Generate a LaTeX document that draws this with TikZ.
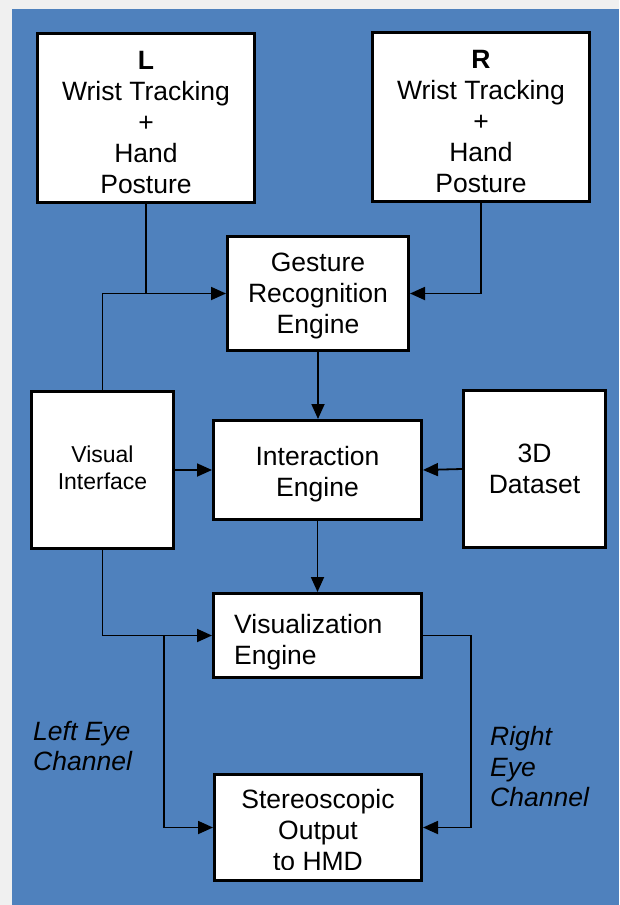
\documentclass[tikz,border=0pt]{standalone}
\usepackage{fontspec}
\setmainfont{Liberation Sans}
\usetikzlibrary{arrows.meta}
\definecolor{panelblue}{HTML}{4F81BD}
\definecolor{pagegray}{HTML}{F0F0F0}
\tikzset{
  box/.style={draw=black, fill=white, line width=3pt, rectangle, inner sep=0pt},
  txt/.style={align=center, inner sep=0pt, font=\fontsize{26.5}{31}\selectfont},
  small/.style={font=\fontsize{23}{27}\selectfont},
  conn/.style={draw=black, line width=1.8pt},
  arr/.style={conn, -{Triangle[length=15pt,width=13pt]}},
  chan/.style={align=left, inner sep=0pt, font=\fontsize{26.5}{30.5}\selectfont\itshape},
}
\begin{document}
\begin{tikzpicture}[x=1pt, y=-1pt]
  % page and panel
  \fill[pagegray] (0,0) rectangle (619,905);
  \fill[panelblue] (12,9) rectangle (619,905);
  \useasboundingbox (0,0) rectangle (619,905);

  % blocks
  \node[box, minimum width=217pt, minimum height=169pt] (L) at (146,118) {};
  \node[box, minimum width=217pt, minimum height=169pt] (R) at (481,117) {};
  \node[box, minimum width=181pt, minimum height=114pt] (G) at (318,293.5) {};
  \node[box, minimum width=142pt, minimum height=157pt] (V) at (102.5,470) {};
  \node[box, minimum width=208pt, minimum height=99pt] (I) at (317.5,470) {};
  \node[box, minimum width=142pt, minimum height=157pt] (D) at (534.5,469) {};
  \node[box, minimum width=208pt, minimum height=84pt] (Z) at (317.5,635.5) {};
  \node[box, minimum width=207pt, minimum height=106pt] (S) at (318,827.5) {};

  % block texts
  \node[txt] (Lt) at ([yshift=-4.5pt]L.center) {\textbf{L}\\Wrist Tracking\\+\\Hand\\Posture};
  \node[txt] (Rt) at ([yshift=-4.5pt]R.center) {\textbf{R}\\Wrist Tracking\\+\\Hand\\Posture};
  \node[txt] (Gt) at ([yshift=-2pt]G.center) {Gesture\\Recognition\\Engine};
  \node[txt, small] (Vt) at ([yshift=2pt]V.center) {Visual\\Interface};
  \node[txt] (It) at ([yshift=-4.5pt]I.center) {Interaction\\Engine};
  \node[txt] (Dt) at (D.center) {3D\\Dataset};
  \node[txt, align=left, anchor=west] (Zt) at (234,642) {Visualization\\Engine};
  \begin{scope}
    \clip (200,770) rectangle (440,869);
    \node[txt] (St) at (318,830.5) {Stereoscopic\\Output\\to HMD};
  \end{scope}

  % channel labels
  \node[chan, anchor=west] (LE) at (33,746) {Left Eye\\Channel};
  \node[chan, anchor=west] (RE) at (490,767) {Right\\Eye\\Channel};

  % connectors
  \draw[conn] (L.south) -- (L.south |- G.west);
  \draw[arr] (V.north) |- (G.west);
  \draw[arr] (R.south) |- (G.east);
  \draw[arr] (G.south) -- (G.south |- I.north);
  \draw[arr] (V.east) -- (I.west);
  \draw[arr] (D.west) -- (I.east);
  \draw[arr] (I.south) -- (I.south |- Z.north);
  \draw[arr] (V.south) |- (Z.west);
  \coordinate (lsplit) at (164,635.5);
  \draw[arr] (lsplit) |- (S.west);
  \coordinate (rturn) at (471,635.5);
  \draw[arr] (Z.east) -- (rturn) |- (S.east);
\end{tikzpicture}
\end{document}
